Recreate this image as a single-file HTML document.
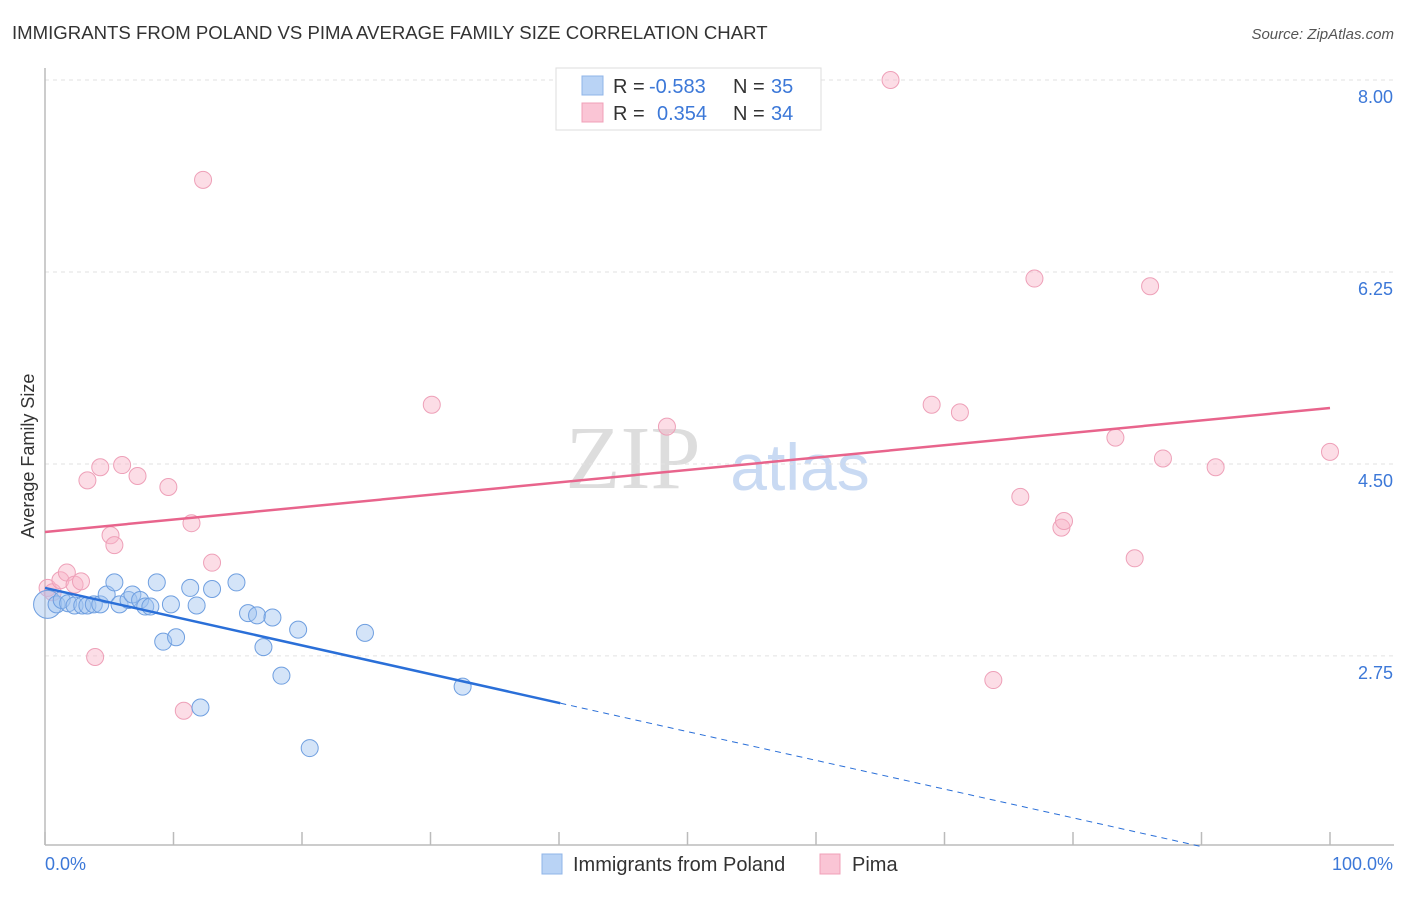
<!DOCTYPE html>
<html><head><meta charset="utf-8"><style>
body{margin:0;background:#fff;font-family:"Liberation Sans",sans-serif;}
svg text{font-family:"Liberation Sans",sans-serif;}
</style></head><body>
<svg id="chart" width="1406" height="892" xmlns="http://www.w3.org/2000/svg">
<text x="12" y="39" font-size="18.6" fill="#333">IMMIGRANTS FROM POLAND VS PIMA AVERAGE FAMILY SIZE CORRELATION CHART</text>
<text x="1394" y="39" font-size="15" fill="#555" text-anchor="end" font-style="italic">Source: ZipAtlas.com</text>
<g>
<text x="633" y="488" font-size="90" fill="#ddd" text-anchor="middle" font-family="Liberation Serif" style="font-family:'Liberation Serif',serif">ZIP</text>
<text x="800" y="490" font-size="66" fill="#c9daf3" text-anchor="middle">atlas</text>
</g>
<g id="grid"></g>
<line x1="45" y1="68" x2="45" y2="845" stroke="#bbb" stroke-width="1.5"/>
<line x1="45" y1="845" x2="1394" y2="845" stroke="#bbb" stroke-width="1.5"/>
<g id="ticks"></g>
<text transform="translate(34,456) rotate(-90)" font-size="18" fill="#333" text-anchor="middle">Average Family Size</text>
<text x="45" y="870" font-size="18" fill="#3c78d8">0.0%</text>
<text x="1393" y="870" font-size="18" fill="#3c78d8" text-anchor="end">100.0%</text>
<g id="points"></g>
<g id="trends"></g>
<g>
<rect x="556" y="68" width="265" height="62" fill="#fff" stroke="#ddd"/>
<rect x="582" y="76" width="21" height="19" fill="#b9d3f5" stroke="#8fb4e8"/>
<rect x="582" y="103" width="21" height="19" fill="#fac5d5" stroke="#f0a0b8"/>
<text x="613" y="93" font-size="20" fill="#333">R = <tspan x="649" fill="#3c78d8">-0.583</tspan><tspan x="733">N = </tspan><tspan x="771" fill="#3c78d8">35</tspan></text>
<text x="613" y="120" font-size="20" fill="#333">R = <tspan x="657" fill="#3c78d8">0.354</tspan><tspan x="733">N = </tspan><tspan x="771" fill="#3c78d8">34</tspan></text>
</g>
<g>
<rect x="542" y="854" width="20" height="20" fill="#b9d3f5" stroke="#8fb4e8"/>
<text x="573" y="871" font-size="20" fill="#333">Immigrants from Poland</text>
<rect x="820" y="854" width="20" height="20" fill="#fac5d5" stroke="#f0a0b8"/>
<text x="852" y="871" font-size="20" fill="#333">Pima</text>
</g>
</svg>
<script>
const yTicks=[8.00,6.25,4.50,2.75];
const yTickLabels=["8.00","6.25","4.50","2.75"];
const blueX=[0.2,0.9,1.3,1.8,2.3,2.9,3.3,3.8,4.3,4.8,5.4,5.8,6.5,6.8,7.4,7.8,8.2,8.7,9.2,9.8,10.2,11.3,11.8,12.1,13.0,14.9,15.8,16.5,17.0,17.7,18.4,19.7,20.6,24.9,32.5];
const blueY=[3.22,3.22,3.26,3.23,3.21,3.21,3.21,3.22,3.22,3.31,3.42,3.22,3.26,3.31,3.26,3.20,3.20,3.42,2.88,3.22,2.92,3.37,3.21,2.28,3.36,3.42,3.14,3.12,2.83,3.10,2.57,2.99,1.91,2.96,2.47];
const pinkX=[0.2,0.6,1.2,1.7,2.3,2.8,3.3,3.9,4.3,5.1,5.4,6.0,7.2,9.6,10.8,11.4,12.3,13.0,30.1,48.4,65.8,69.0,71.2,73.8,75.9,77.0,79.1,79.3,83.3,84.8,86.0,87.0,91.1,100];
const pinkY=[3.37,3.33,3.44,3.51,3.40,3.43,4.35,2.74,4.47,3.85,3.76,4.49,4.39,4.29,2.25,3.96,7.09,3.60,5.04,4.84,8.00,5.04,4.97,2.53,4.20,6.19,3.92,3.98,4.74,3.64,6.12,4.55,4.47,4.61];
const blueTrend=[3.37,-0.0262];
const pinkTrend=[3.88,0.0113];
const blueSolidEnd=40.1, blueDashEnd=89.9;
const NS="http://www.w3.org/2000/svg";
const sx=v=>45+v*12.85;
const sy=v=>80+(8-v)*109.7;
function mk(tag,attrs,parent){const e=document.createElementNS(NS,tag);for(const k in attrs)e.setAttribute(k,attrs[k]);parent.appendChild(e);return e;}
const grid=document.getElementById('grid');
yTicks.forEach((t,i)=>{
 const l=mk('line',{x1:45,x2:1394,y1:sy(t),y2:sy(t),stroke:'#e2e2e2','stroke-dasharray':'4,4'},grid);
 
 
 const tx=mk('text',{x:1393,y:sy(t)+23,'font-size':18,fill:'#3c78d8','text-anchor':'end'},grid);
 tx.textContent=yTickLabels[i];
 
 
});
const ticks=document.getElementById('ticks');
for(let k=0;k<=10;k++){
 const l=mk('line',{x1:sx(k*10),x2:sx(k*10),y1:832,y2:845,stroke:'#bbb','stroke-width':1.5},ticks);
 
 
}
const pts=document.getElementById('points');
pinkX.forEach((x,i)=>{
 const c=mk('circle',{cx:sx(x),cy:sy(pinkY[i]),r:8.5,fill:'rgba(248,180,200,0.45)',stroke:'#eea0b8','stroke-width':1},pts);
 
 
});
blueX.forEach((x,i)=>{
 const c=mk('circle',{cx:sx(x),cy:sy(blueY[i]),r:i===0?14:8.5,fill:'rgba(160,195,240,0.45)',stroke:'#6f9fe0','stroke-width':1},pts);
 
 
});
const tr=document.getElementById('trends');
const bf=x=>blueTrend[0]+blueTrend[1]*x, pf=x=>pinkTrend[0]+pinkTrend[1]*x;
let l=mk('line',{x1:sx(0),y1:sy(pf(0)),x2:sx(100),y2:sy(pf(100)),stroke:'#e8648c','stroke-width':2.5},tr);


l=mk('line',{x1:sx(0),y1:sy(bf(0)),x2:sx(blueSolidEnd),y2:sy(bf(blueSolidEnd)),stroke:'#2a6fd8','stroke-width':2.5},tr);


l=mk('line',{x1:sx(blueSolidEnd),y1:sy(bf(blueSolidEnd)),x2:sx(blueDashEnd),y2:sy(bf(blueDashEnd)),stroke:'#2a6fd8','stroke-width':1,'stroke-dasharray':'6,5'},tr);


</script>
</body></html>
